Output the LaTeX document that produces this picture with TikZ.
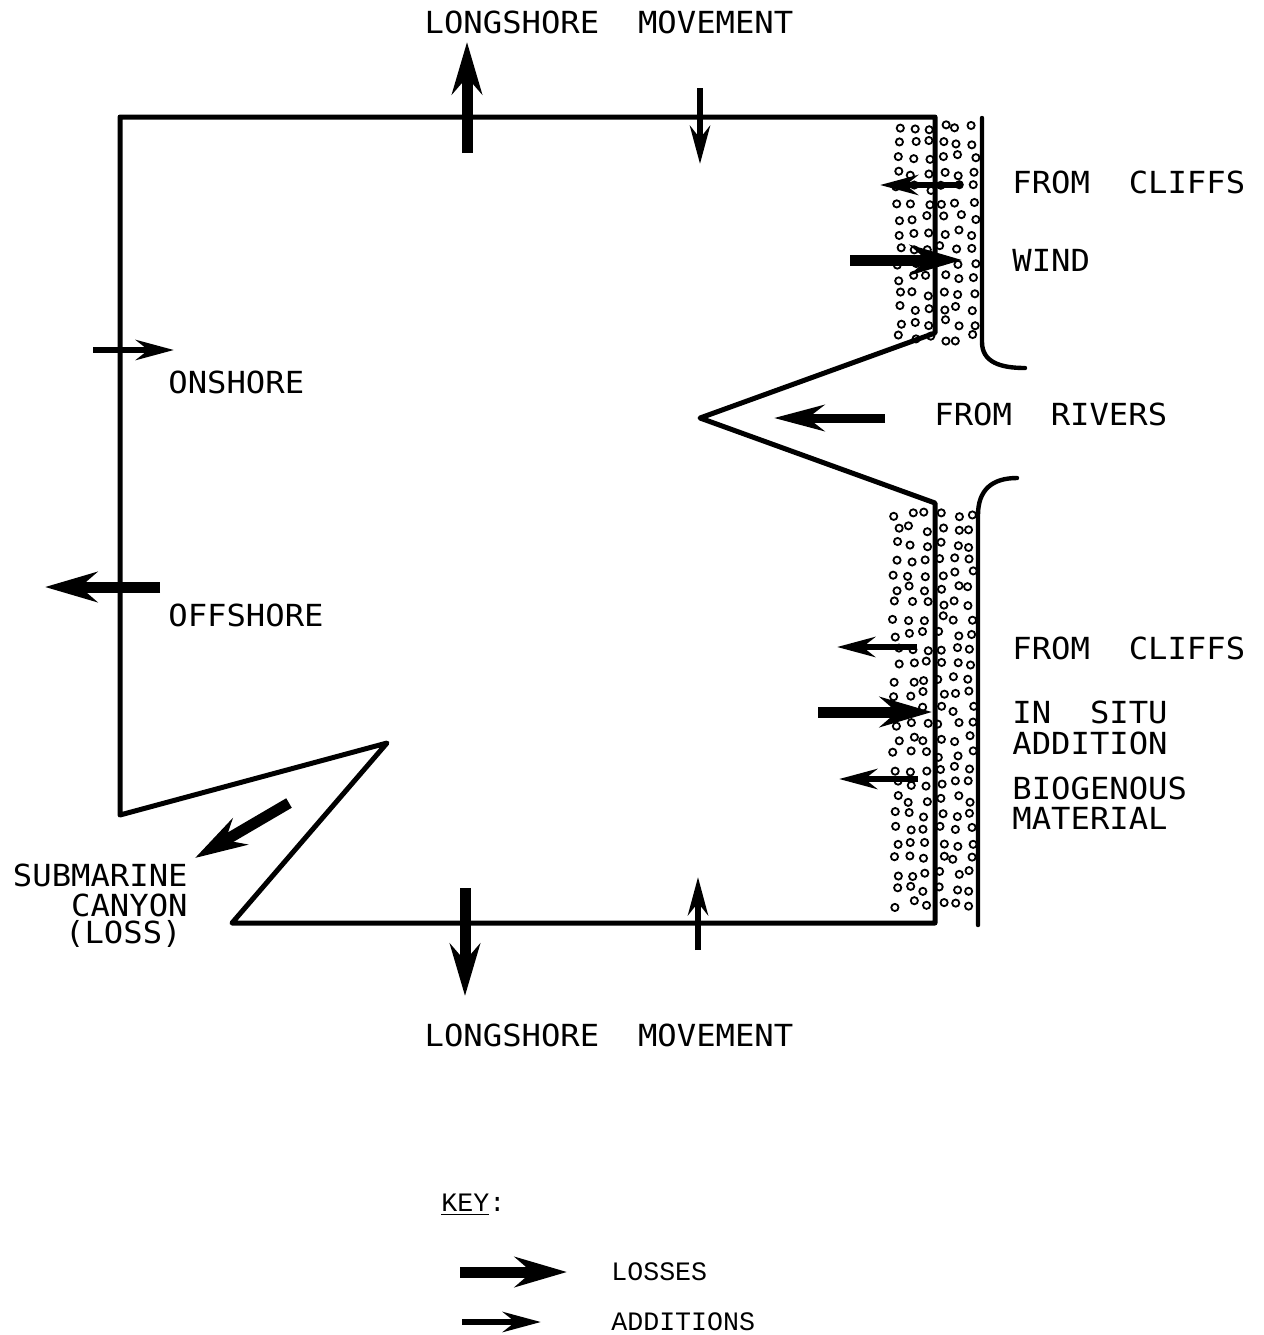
\documentclass[tikz,border=0pt]{standalone}
\usepackage{fontspec}
\usetikzlibrary{arrows.meta}
\newfontfamily\gothic[FakeStretch=1.06]{DejaVu Sans Mono}
\newfontfamily\courier{Liberation Mono}
\begin{document}
\begin{tikzpicture}[x=0.5pt,y=-0.5pt,
  outline/.style={line width=2.5pt,line join=round,line cap=round},
  cliffline/.style={line width=2.2pt,line cap=round},
  addarrow/.style={line width=3.2pt,-{Stealth[length=19pt,width=10pt]}},
  lossarrow/.style={line width=5.5pt,-{Stealth[length=26pt,width=15pt]}},
  dotc/.style={line width=0.9pt},
  lbl/.style={font=\gothic\fontsize{15.2}{15}\selectfont,inner sep=0pt,anchor=west},
  keylbl/.style={font=\courier\fontsize{13.3}{15}\selectfont,inner sep=0pt,anchor=west}]
\path[use as bounding box,fill=white] (0,0) rectangle (1264,1335);

% stipple (cliff deposits)
\pgfmathsetseed{11}
\foreach \i in {0,...,5}{
  \foreach \j in {0,...,14}{
    \pgfmathsetmacro\xx{898+\i*15+rand*3.5}
    \pgfmathsetmacro\yy{128+\j*15+rand*3.5}
    \draw[dotc] (\xx,\yy) circle[radius=1.8pt];
  }
}
\foreach \i in {0,...,5}{
  \foreach \j in {0,...,26}{
    \pgfmathsetmacro\xx{896+\i*15+rand*3.5}
    \pgfmathsetmacro\yy{514+\j*15+rand*3.5}
    \draw[dotc] (\xx,\yy) circle[radius=1.8pt];
  }
}

% coordinates of outline
\coordinate (tl) at (120,117);
\coordinate (tr) at (935,117);
\coordinate (ru) at (935,333);
\coordinate (rv) at (700,418);
\coordinate (rl) at (935,503);
\coordinate (br) at (935,923);
\coordinate (bl) at (232,923);
\coordinate (cp) at (387,743);
\coordinate (lb) at (120,815);

\draw[outline] (tl) -- (tr) -- (ru) -- (rv) -- (rl) -- (br) -- (bl) -- (cp) -- (lb) -- cycle;

% outer cliff lines
\coordinate (c1a) at (982,118);
\coordinate (c1b) at (982,342);
\coordinate (c1c) at (1025,368);
\draw[cliffline] (c1a) -- (c1b) .. controls (982,362) and (1000,368) .. (c1c);
\coordinate (c2a) at (1017,478);
\coordinate (c2b) at (978,515);
\coordinate (c2c) at (978,925);
\draw[cliffline] (c2a) .. controls (992,478) and (978,490) .. (c2b) -- (c2c);

% arrows: top
\coordinate (a1s) at (467,153); \coordinate (a1e) at (467,42);
\draw[lossarrow] (a1s) -- (a1e);
\coordinate (a2s) at (700,88); \coordinate (a2e) at (700,164);
\draw[addarrow] (a2s) -- (a2e);
% bottom
\coordinate (a3s) at (465,888); \coordinate (a3e) at (465,996);
\draw[lossarrow] (a3s) -- (a3e);
\coordinate (a4s) at (698,950); \coordinate (a4e) at (698,877);
\draw[addarrow] (a4s) -- (a4e);
% left
\coordinate (a5s) at (93,350); \coordinate (a5e) at (174,350);
\draw[addarrow] (a5s) -- (a5e);
\coordinate (a6s) at (160,587); \coordinate (a6e) at (45,587);
\draw[lossarrow] (a6s) -- (a6e);
% right upper
\coordinate (a7s) at (962,185); \coordinate (a7e) at (880,185);
\draw[addarrow] (a7s) -- (a7e);
\coordinate (a8s) at (850,260); \coordinate (a8e) at (962,260);
\draw[lossarrow] (a8s) -- (a8e);
% rivers
\coordinate (a9s) at (885,418); \coordinate (a9e) at (774,418);
\draw[line width=4.5pt,-{Stealth[length=25pt,width=13pt]}] (a9s) -- (a9e);
% right lower
\coordinate (a10s) at (917,647); \coordinate (a10e) at (837,647);
\draw[addarrow] (a10s) -- (a10e);
\coordinate (a11s) at (818,712); \coordinate (a11e) at (932,712);
\draw[lossarrow] (a11s) -- (a11e);
\coordinate (a12s) at (918,779); \coordinate (a12e) at (839,779);
\draw[addarrow] (a12s) -- (a12e);
% canyon
\coordinate (a13s) at (289,803); \coordinate (a13e) at (195,858);
\draw[lossarrow] (a13s) -- (a13e);

% labels
\node[lbl,anchor=center] (lmtop) at (609,22) {LONGSHORE\ \ MOVEMENT};
\node[lbl] (fc1) at (1012,182) {FROM\ \ CLIFFS};
\node[lbl] (wind) at (1012,260) {WIND};
\node[lbl] (on) at (168,382) {ONSHORE};
\node[lbl] (riv) at (934,414) {FROM\ \ RIVERS};
\node[lbl] (off) at (168,615) {OFFSHORE};
\node[lbl] (fc2) at (1012,648) {FROM\ \ CLIFFS};
\node[lbl] (ins) at (1012,712) {IN\ \ SITU};
\node[lbl] (add) at (1012,743) {ADDITION};
\node[lbl] (bio) at (1012,788) {BIOGENOUS};
\node[lbl] (mat) at (1012,818) {MATERIAL};
\node[lbl,anchor=east] (sub) at (188,875) {SUBMARINE};
\node[lbl,anchor=east] (can) at (188,905) {CANYON};
\node[lbl,anchor=east] (los) at (182,934) {(LOSS)};
\node[lbl,anchor=center] (lmbot) at (609,1035) {LONGSHORE\ \ MOVEMENT};

% key
\node[keylbl] (key) at (441,1205) {\underline{KEY}:};
\coordinate (k1s) at (460,1272); \coordinate (k1e) at (567,1272);
\draw[lossarrow] (k1s) -- (k1e);
\coordinate (k2s) at (462,1322); \coordinate (k2e) at (541,1322);
\draw[addarrow] (k2s) -- (k2e);
\node[keylbl] (kl) at (611,1272) {LOSSES};
\node[keylbl] (ka) at (611,1322) {ADDITIONS};
\end{tikzpicture}
\end{document}
